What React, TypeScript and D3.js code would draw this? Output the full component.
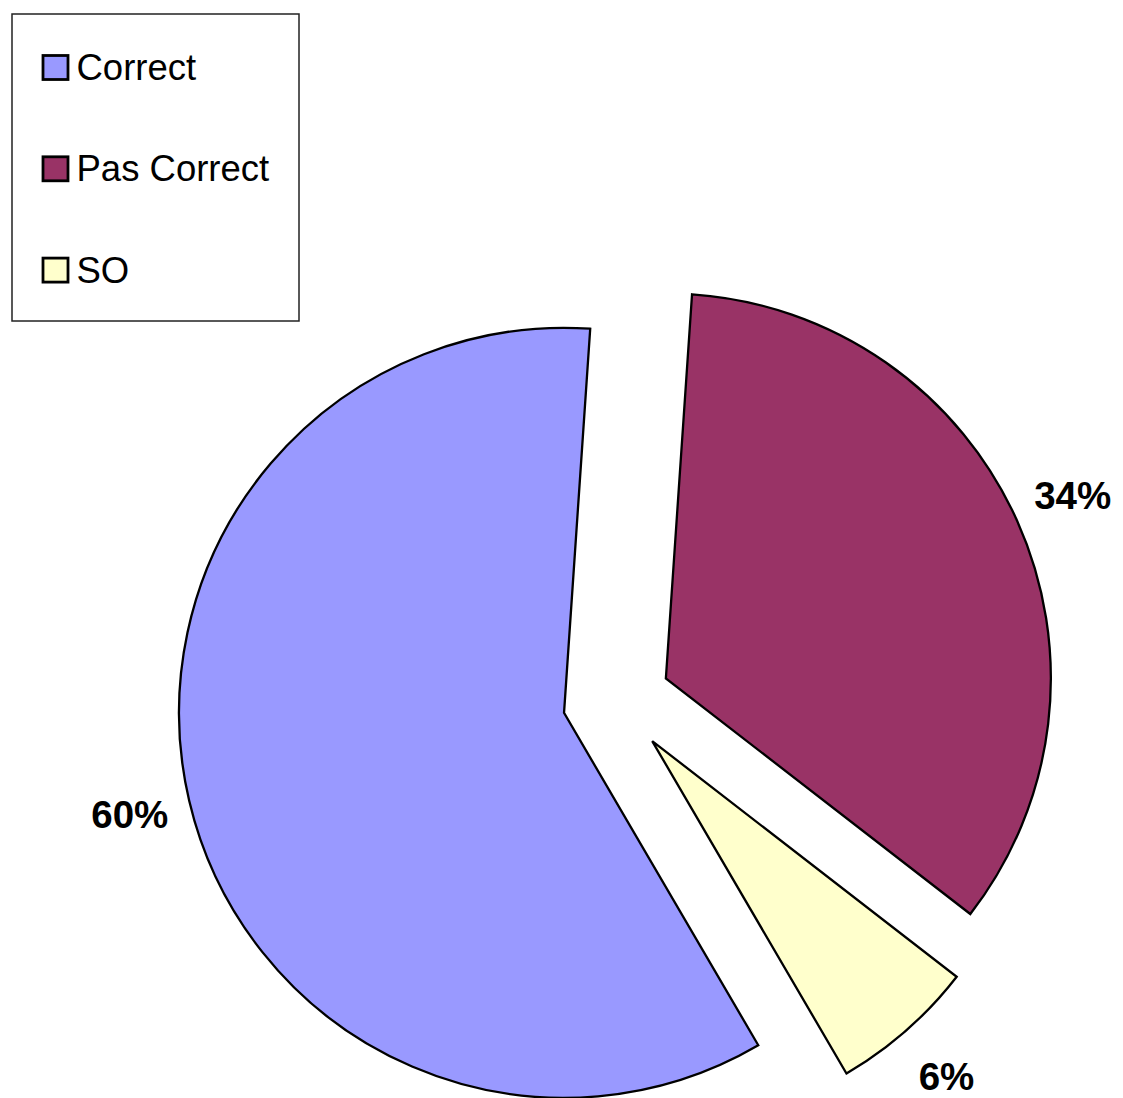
import React from "react";
import * as d3 from "d3";

const categories = ["Correct", "Pas Correct", "SO"];
const values = [59.5, 34.4, 6.1];
const colors = ["#9999FF", "#993366", "#FFFFCC"];

const W = 1123;
const H = 1098;
const CX = 616.6;
const CY = 700.5;
const R = 385;
const EXPLODE = 54;
const LABEL_R = 446;
const START_DEG = 149.7;

export default function App() {
  const start = (START_DEG * Math.PI) / 180;
  const pie = d3
    .pie<number>()
    .sort(null)
    .value((d) => d)
    .startAngle(start)
    .endAngle(start + 2 * Math.PI);
  const arcs = pie(values);
  const arcGen = d3.arc<d3.PieArcDatum<number>>().innerRadius(0).outerRadius(R);
  const total = d3.sum(values);

  return (
    <div style={{ position: "absolute", left: 0, top: 0 }}>
      <svg width={W} height={H} style={{ display: "block", background: "#fff" }}>
        {arcs.map((a, i) => {
          const mid = (a.startAngle + a.endAngle) / 2;
          const ox = CX + EXPLODE * Math.sin(mid);
          const oy = CY - EXPLODE * Math.cos(mid);
          const lx = ox + LABEL_R * Math.sin(mid);
          const ly = oy - LABEL_R * Math.cos(mid);
          return (
            <g key={categories[i]}>
              <path
                d={arcGen(a) || ""}
                transform={`translate(${ox},${oy})`}
                fill={colors[i]}
                stroke="#000"
                strokeWidth={2.3}
                strokeLinejoin="miter"
              />
              <text
                x={lx}
                y={ly}
                textAnchor="middle"
                dominantBaseline="central"
                fontFamily="'Liberation Sans', Arial, sans-serif"
                fontWeight="bold"
                fontSize={38.5}
                fill="#000"
              >
                {`${Math.round((a.data / total) * 100)}%`}
              </text>
            </g>
          );
        })}
        <rect x={12} y={14} width={287} height={307} fill="#fff" stroke="#222" strokeWidth={1.5} />
        {categories.map((c, i) => (
          <g key={c} transform={`translate(0,${i * 101.3})`}>
            <rect x={43} y={55.5} width={25} height={24} fill={colors[i]} stroke="#000" strokeWidth={2.8} />
            <text
              x={76.5}
              y={80}
              fontFamily="'Liberation Sans', Arial, sans-serif"
              fontSize={36.5}
              fill="#000"
            >
              {c}
            </text>
          </g>
        ))}
      </svg>
    </div>
  );
}
